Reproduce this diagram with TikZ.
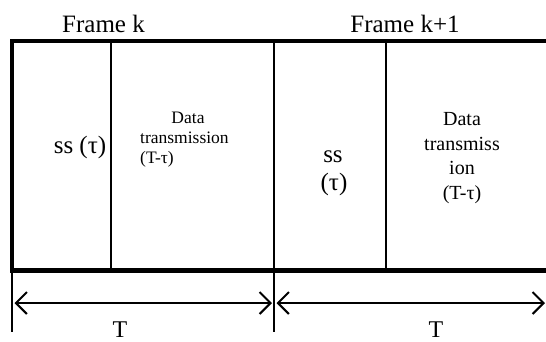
\documentclass[tikz,border=0pt]{standalone}
\usepackage{fontspec}
\setmainfont{Liberation Serif}
\usetikzlibrary{arrows.meta}
\begin{document}
\begin{tikzpicture}[x=1pt,y=-1pt,
  thickline/.style={line width=4.6pt, line join=miter},
  thinline/.style={line width=1.6pt},
  dimarrow/.style={line width=2pt, {Straight Barb[length=11pt,width=22pt,line width=2pt]}-{Straight Barb[length=11pt,width=22pt,line width=2pt]}},
  lbl/.style={inner sep=0pt, anchor=base},
  big/.style={lbl, font=\fontsize{25}{28}\selectfont},
  mid/.style={lbl, font=\fontsize{25}{28}\selectfont},
  smallL/.style={lbl, font=\fontsize{17.5}{20}\selectfont},
  smallR/.style={lbl, font=\fontsize{20}{24}\selectfont}]
\useasboundingbox (0,0) rectangle (546,341);
% frame outline
\coordinate (tr) at (546,41);
\coordinate (tl) at (12,41);
\coordinate (bl) at (12,270.5);
\coordinate (br) at (546,270.5);
\draw[thickline] (tr) -- (tl) -- (bl) -- (br);
% dividers
\coordinate (d1t) at (111,41);
\coordinate (d1b) at (111,270.5);
\coordinate (d2t) at (274,41);
\coordinate (d2b) at (274,332);
\coordinate (d3t) at (386,41);
\coordinate (d3b) at (386,270.5);
\draw[thinline] (d1t) -- (d1b);
\draw[thinline] (d2t) -- (d2b);
\draw[thinline] (d3t) -- (d3b);
% left tick
\coordinate (t0a) at (12,270.5);
\coordinate (t0b) at (12,332);
\draw[thinline] (t0a) -- (t0b);
% dimension arrows
\coordinate (a1l) at (14.5,303);
\coordinate (a1r) at (272,303);
\coordinate (a2l) at (276.5,303);
\coordinate (a2r) at (545,303);
\draw[dimarrow] (a1l) -- (a1r);
\draw[dimarrow] (a2l) -- (a2r);
% labels
\node[big] (fk) at (103.5,32) {Frame k};
\node[big] (fk1) at (405,32) {Frame k+1};
\node[mid] (ss1) at (80,153) {ss (τ)};
\node[smallL] (d1a) at (188,123) {Data};
\node[smallL, anchor=base west] (d1b2) at (140,143) {transmission};
\node[smallL, anchor=base west] (d1c) at (140,163) {(T-τ)};
\node[mid] (ss2) at (333,162) {ss};
\node[mid] (tau2) at (334,190) {(τ)};
\node[smallR] (d2a) at (462,125) {Data};
\node[smallR] (d2b2) at (462,150) {transmiss};
\node[smallR] (d2c) at (462,174) {ion};
\node[smallR] (d2d) at (462,199) {(T-τ)};
\node[lbl, font=\fontsize{24}{28}\selectfont] (T1) at (120,337) {T};
\node[lbl, font=\fontsize{24}{28}\selectfont] (T2) at (436,337) {T};
\end{tikzpicture}
\end{document}
